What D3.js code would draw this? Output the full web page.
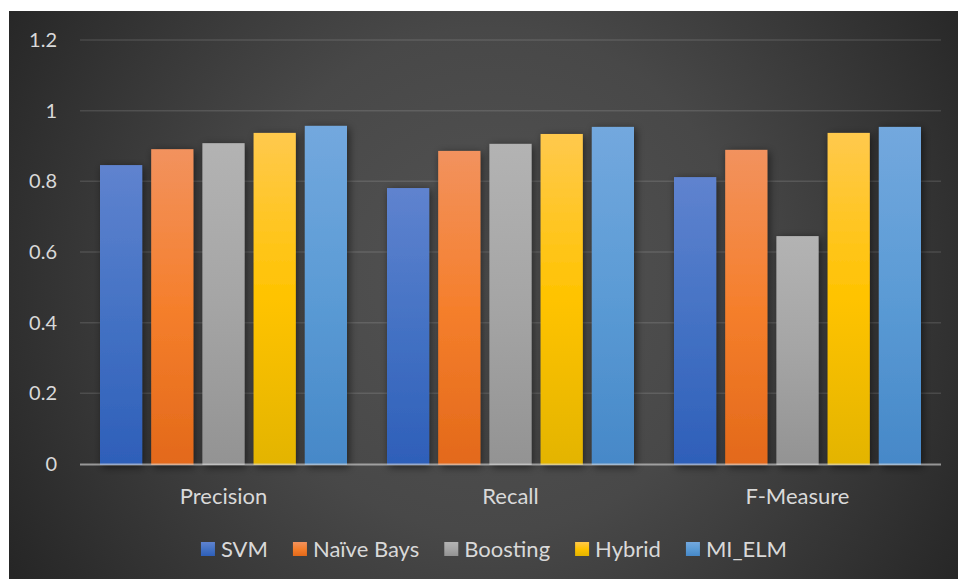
<!DOCTYPE html>
<html>
<head>
<meta charset="utf-8">
<script src="https://cdn.jsdelivr.net/npm/d3@7"></script>
<style>
  html, body { margin: 0; padding: 0; background: #ffffff; }
  svg { display: block; }
</style>
</head>
<body>
<svg id="chart" width="958" height="579"></svg>
<script>
// Metric categories along the x axis
const categories = ["Precision", "Recall", "F-Measure"];
// Classifier series
const seriesNames = ["SVM", "Naïve Bays", "Boosting", "Hybrid", "MI_ELM"];
// Score of each classifier per metric (same order as categories)
const svmValues      = [0.846, 0.781, 0.812];
const naiveValues    = [0.891, 0.886, 0.889];
const boostingValues = [0.908, 0.906, 0.645];
const hybridValues   = [0.937, 0.934, 0.937];
const mielmValues    = [0.957, 0.954, 0.954];
const yTicks = [0, 0.2, 0.4, 0.6, 0.8, 1, 1.2];

const seriesValues = [svmValues, naiveValues, boostingValues, hybridValues, mielmValues];
// top / middle / bottom colours of each bar's vertical gradient
const seriesColors = [
  ["#5f83cf", "#4472c4", "#2e5fb9"],
  ["#f2925e", "#f57f2c", "#e3691a"],
  ["#b3b3b3", "#a5a5a5", "#939393"],
  ["#ffc94d", "#ffc300", "#e3b400"],
  ["#73a8de", "#5b9bd5", "#4688c8"]
];

const svg = d3.select("#chart");
const W = 958, H = 579;
const frame = { x: 9, y: 11, w: W - 9, h: H - 11 };
const plot = { left: 80, right: 941, top: 40, bottom: 464 };

const defs = svg.append("defs");
const bg = defs.append("radialGradient").attr("id", "bgGrad")
  .attr("gradientUnits", "userSpaceOnUse")
  .attr("cx", 490).attr("cy", 280).attr("r", 560);
bg.append("stop").attr("offset", "0%").attr("stop-color", "#535353");
bg.append("stop").attr("offset", "45%").attr("stop-color", "#484848");
bg.append("stop").attr("offset", "100%").attr("stop-color", "#262626");

seriesColors.forEach((c, i) => {
  const g = defs.append("linearGradient").attr("id", "barGrad" + i)
    .attr("x1", 0).attr("y1", 0).attr("x2", 0).attr("y2", 1);
  g.append("stop").attr("offset", "0%").attr("stop-color", c[0]);
  g.append("stop").attr("offset", "50%").attr("stop-color", c[1]);
  g.append("stop").attr("offset", "100%").attr("stop-color", c[2]);
});

const shadow = defs.append("filter").attr("id", "barShadow")
  .attr("x", "-30%").attr("y", "-10%").attr("width", "160%").attr("height", "120%");
shadow.append("feDropShadow").attr("dx", 2).attr("dy", 2)
  .attr("stdDeviation", 4).attr("flood-color", "#000").attr("flood-opacity", 0.55);

// chart area background
svg.append("rect").attr("x", frame.x).attr("y", frame.y)
  .attr("width", frame.w).attr("height", frame.h).attr("fill", "url(#bgGrad)");

const y = d3.scaleLinear().domain([0, 1.2]).range([plot.bottom, plot.top]);
const x0 = d3.scaleBand().domain(categories).range([plot.left, plot.right]).paddingInner(0).paddingOuter(0);
const x1 = d3.scaleBand().domain(seriesNames)
  .range([20, x0.bandwidth() - 20]).paddingInner(0.176).paddingOuter(0);

const textColor = "#d9d9d9";
const font = "Lato, 'Open Sans', sans-serif";

// horizontal gridlines
svg.append("g").selectAll("line").data(yTicks.filter(t => t > 0)).join("line")
  .attr("x1", plot.left).attr("x2", plot.right)
  .attr("y1", d => y(d)).attr("y2", d => y(d))
  .attr("stroke", "rgba(255,255,255,0.12)").attr("stroke-width", 1.5);

// y axis labels
const yAxis = d3.axisLeft(y).tickValues(yTicks).tickSize(0).tickPadding(0)
  .tickFormat(d => d3.format("")(d));
const yg = svg.append("g").attr("transform", `translate(57,0)`).call(yAxis);
yg.select(".domain").remove();
yg.selectAll("text").attr("fill", textColor).attr("font-family", font).attr("font-size", 20);

// bars
const groups = svg.append("g").selectAll("g").data(categories).join("g")
  .attr("transform", d => `translate(${x0(d)},0)`);
groups.selectAll("rect")
  .data((c, ci) => seriesNames.map((s, si) => ({ s, si, v: seriesValues[si][ci] })))
  .join("rect")
  .attr("x", d => x1(d.s))
  .attr("width", x1.bandwidth())
  .attr("y", d => y(d.v))
  .attr("height", d => y(0) - y(d.v) + 1)
  .attr("fill", d => `url(#barGrad${d.si})`)
  .attr("filter", "url(#barShadow)");

// category axis line
svg.append("line").attr("x1", plot.left).attr("x2", plot.right)
  .attr("y1", y(0) + 0.5).attr("y2", y(0) + 0.5)
  .attr("stroke", "rgba(220,220,220,0.6)").attr("stroke-width", 2);

// category labels
const xAxis = d3.axisBottom(x0).tickSize(0).tickPadding(0);
const xg = svg.append("g").attr("transform", `translate(0,${y(0) + 22})`).call(xAxis);
xg.select(".domain").remove();
xg.selectAll("text").attr("fill", textColor).attr("font-family", font)
  .attr("font-size", 22).attr("dy", "0.35em").attr("y", 10);

// legend
const legend = svg.append("g");
const legendY = 549, sq = 14, gapAfterSq = 6, gapItems = 25;
const items = legend.selectAll("g").data(seriesNames).join("g");
items.append("rect").attr("width", sq).attr("height", sq).attr("y", -sq / 2)
  .attr("fill", (d, i) => `url(#barGrad${i})`);
items.append("text").attr("x", sq + gapAfterSq).attr("dy", "0.35em")
  .attr("fill", textColor).attr("font-family", font).attr("font-size", 22)
  .text(d => d);
let cx = 0;
const offsets = [];
items.each(function () {
  offsets.push(cx);
  const w = this.getBBox().width;
  cx += w + gapItems;
});
const totalW = cx - gapItems;
const startX = 494 - totalW / 2;
items.attr("transform", (d, i) => `translate(${startX + offsets[i]},${legendY})`);
</script>
</body>
</html>
